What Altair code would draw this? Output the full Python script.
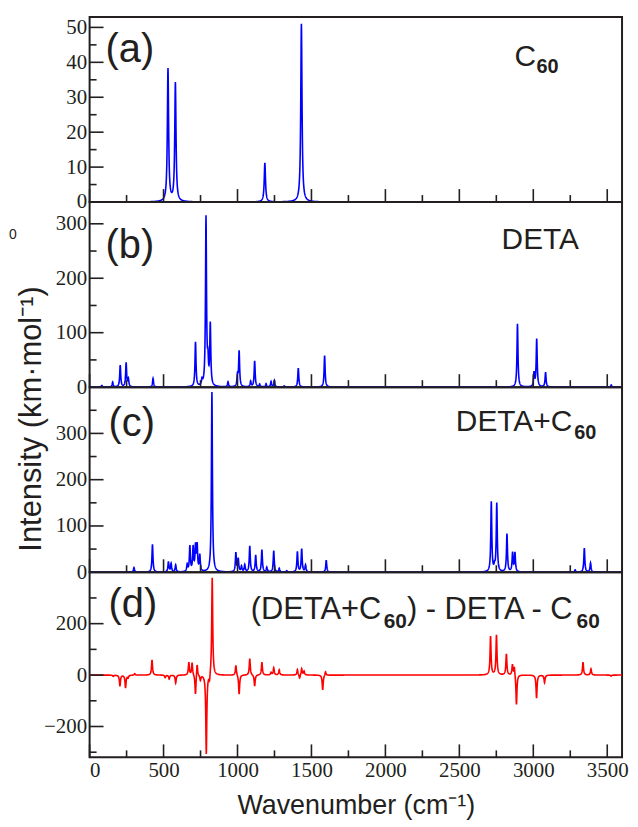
import altair as alt
import numpy as np
import pandas as pd

# ---------------- data: peak tables ----------------
# (a) C60
c60_pos = [530, 580, 1185, 1432]
c60_int = [38, 34, 11.2, 51]

# (b) DETA
deta_pos = [83, 156, 207, 247, 262, 429, 716, 760, 787, 800, 816, 936, 1000, 1011,
            1089, 1116, 1150, 1193, 1227, 1249, 1316, 1411, 1589, 2893, 3005, 3023,
            3083, 3527]
deta_int = [3, 9, 40, 44, 14, 16, 82, 10, 310, 38, 112, 9, 20, 65,
            10, 48, 5, 6, 10, 12, 2, 35, 58, 116, 25, 88,
            27, 4]

# (c) DETA+C60
mix_pos = [300, 425, 533, 551, 582, 660, 678, 700, 716, 727, 745, 827, 989, 1005,
           1027, 1049, 1083, 1123, 1165, 1198, 1245, 1282, 1333, 1405, 1434, 1460,
           1600, 2716, 2738, 2753, 2822, 2860, 2876, 3283, 3345, 3387]
mix_int = [10, 60, 22, 18, 15, 15, 55, 52, 53, 55, 35, 389, 41, 28,
           12, 15, 56, 36, 48, 10, 46, 8, 3, 44, 50, 15,
           26, 151, 10, 148, 82, 41, 41, 5, 52, 20]

# (d) difference spectrum
diff_pos = [160, 205, 243, 260, 305, 422, 511, 538, 582, 671, 693, 716, 727, 749,
            789, 811, 829, 989, 1011, 1083, 1116, 1165, 1227, 1245, 1282, 1405,
            1420, 1434, 1450, 1576, 1595, 2711, 2751, 2818, 2859, 2872, 2886, 3022,
            3076, 3336, 3390, 3526]
diff_int = [-5, -43, -50, -10, 6, 59, -10, -15, -31, 49, 49, -80, 49, -20,
            -310, -30, 383, 40, -76, 65, -44, 50, 10, 28, 20, 22,
            -15, 25, 15, -58, 15, 150, 155, 82, 41, 34, -118, -90,
            -29, 50, 24, -4]

# axis tick values
x_major = [0, 500, 1000, 1500, 2000, 2500, 3000, 3500]
x_minor = [250, 750, 1250, 1750, 2250, 2750, 3250]
panel_names = ["(a)", "(b)", "(c)", "(d)"]

SANS = "Liberation Sans"
SERIF = "Liberation Serif"
INK = "#231f20"
W, H = 535, 186

grid = np.arange(0, 3601, 1.0)


def spectrum(pos, inten, gamma):
    p = np.asarray(pos, float)[:, None]
    h = np.asarray(inten, float)[:, None]
    y = (h / (1.0 + ((grid[None, :] - p) / gamma) ** 2)).sum(axis=0)
    return pd.DataFrame({"wn": grid, "I": y})


xscale = alt.Scale(domain=[0, 3600], nice=False, zero=False)


def txt(s, x, y, size, weight="normal", font=SANS, angle=0, align="left",
        baseline="alphabetic"):
    return alt.Chart(pd.DataFrame({"s": [s]})).mark_text(
        x=x, y=y, fontSize=size, fontWeight=weight, font=font, angle=angle,
        align=align, baseline=baseline, color=INK
    ).encode(text="s:N")


def panel(df, color, ydom, ylabels, ymajor, yminor, texts, show_x=False):
    yscale = alt.Scale(domain=ydom, nice=False, zero=False)
    if show_x:
        xaxis = alt.Axis(values=x_major, ticks=False, domain=False, grid=False,
                         labelFont=SERIF, labelFontSize=21, labelColor=INK,
                         labelPadding=2, format="d", labelOverlap=False,
                         title="Wavenumber (cm\u207b\u00b9)", titleFont=SANS,
                         titleFontSize=27, titleFontWeight="normal",
                         titleColor=INK, titlePadding=12)
    else:
        xaxis = None
    yaxis = alt.Axis(values=ylabels, ticks=False, domain=False, grid=False,
                     labelFont=SERIF, labelFontSize=21, labelColor=INK,
                     labelPadding=3, labelOverlap=False, title=None)
    X = lambda: alt.X("wn:Q", scale=xscale, axis=xaxis,
                      title="Wavenumber (cm\u207b\u00b9)" if show_x else None)
    Y = lambda: alt.Y("I:Q", scale=yscale, axis=yaxis, title=None)
    line = alt.Chart(df).mark_line(color=color, strokeWidth=1.6, clip=True).encode(
        x=X(), y=Y())
    layers = [line]
    for vals, ln in ((x_major, 13), (x_minor, 7)):
        layers.append(alt.Chart(pd.DataFrame({"wn": vals})).mark_rule(
            color=INK, strokeWidth=1.6).encode(
            x=X(), y=alt.value(H), y2=alt.value(H - ln)))
    for vals, ln in ((ymajor, 14), (yminor, 7)):
        layers.append(alt.Chart(pd.DataFrame({"I": vals})).mark_rule(
            color=INK, strokeWidth=1.6).encode(
            y=Y(), x=alt.value(0), x2=alt.value(ln)))
    layers += texts
    return alt.layer(*layers).properties(width=W, height=H)


df_a = spectrum(c60_pos, c60_int, 5.0)
df_b = spectrum(deta_pos, deta_int, 4.0)
df_c = spectrum(mix_pos, mix_int, 4.0)
df_d = spectrum(diff_pos, diff_int, 4.0)

BIG = 40
ANN = 30
SUB = 20

pa = panel(df_a, "#0000ff", [0, 53], [0, 10, 20, 30, 40, 50],
           [10, 20, 30, 40, 50], [5, 15, 25, 35, 45],
           [txt(panel_names[0], 16, 45, BIG),
            txt("C", 427, 49, ANN), txt("60", 449, 56, SUB, "bold")])

pb = panel(df_b, "#0000ff", [0, 340], [0, 100, 200, 300],
           [100, 200, 300], [50, 150, 250],
           [txt(panel_names[1], 16, 56, BIG),
            txt("DETA", 414, 47, ANN),
            txt("0", -81, 37, 14)])

pc = panel(df_c, "#0000ff", [0, 400], [0, 100, 200, 300],
           [100, 200, 300], [50, 150, 250, 350],
           [txt(panel_names[2], 19, 49, BIG),
            txt("DETA+C", 368, 44, ANN), txt("60", 487, 52, SUB, "bold"),
            txt("Intensity (km\u00b7mol\u207b\u00b9)", -58, 32, 31, angle=270,
                align="center", baseline="middle")])

DANN = 31
DSUB = 21
x0 = 162
w1 = 4.306 * DANN
w2 = 2 * 0.556 * DSUB
w3 = 5.5 * DANN
pd_ = panel(df_d, "#ff0000", [-320, 400], [-200, 0, 200],
            [-200, 0, 200], [-300, -100, 100, 300],
            [txt(panel_names[3], 19, 45, BIG),
             txt("(DETA+C", x0, 47, DANN),
             txt("60", x0 + w1, 56, DSUB, "bold"),
             txt(") - DETA - C", x0 + w1 + w2, 47, DANN),
             txt("60", x0 + w1 + w2 + w3, 56, DSUB, "bold")],
            show_x=True)

chart = alt.VConcatChart(vconcat=[pa, pb, pc, pd_], spacing=0, bounds="flush").configure_view(
    stroke=INK, strokeWidth=2
).properties(padding={"left": 0, "top": 5, "right": 0, "bottom": 0}, background="white")

chart.save("out.html", embed_options={"renderer": "svg", "actions": False})
